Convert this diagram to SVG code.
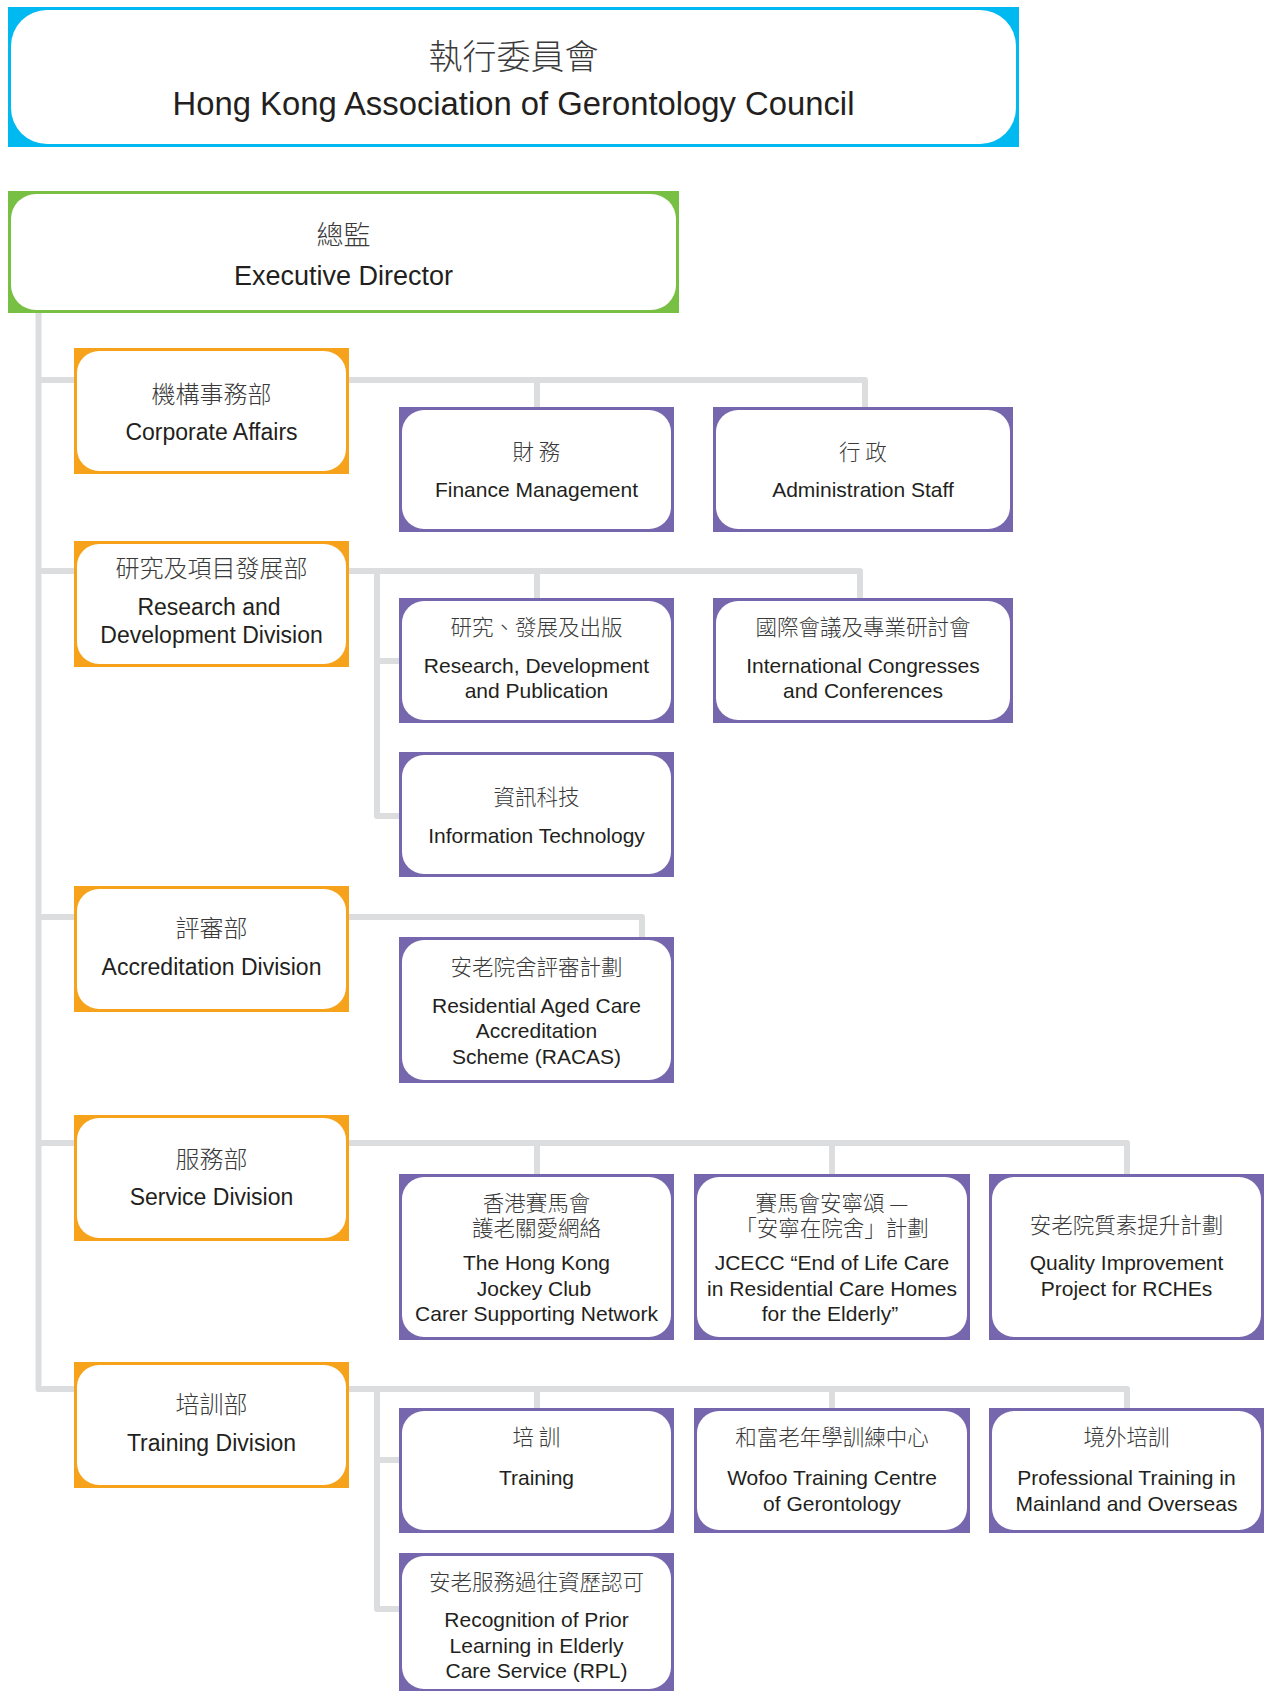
<svg xmlns="http://www.w3.org/2000/svg" width="1266" height="1691" viewBox="0 0 1266 1691">
<style>
.bg{fill:#ffffff}
.in{fill:#ffffff}
.blue{fill:#00b9f1}
.green{fill:#78c043}
.orange{fill:#f7a21b}
.purple{fill:#7566ae}
.con{fill:none;stroke:#dcdddf;stroke-width:6;stroke-linejoin:round;stroke-linecap:butt}
text{text-anchor:middle}
.en{font-family:"Liberation Sans",Arial,sans-serif;fill:#231f20}
.zh{font-family:"Noto Sans CJK TC","Noto Sans CJK SC",sans-serif;fill:#3a3a3a;font-weight:300}
.t1{font-size:32.8px}
.z1{font-size:34px}
.t2{font-size:27px}
.z2{font-size:27px}
.t3{font-size:23px}
.z3{font-size:24px}
.t4{font-size:21px}
.z4{font-size:21.5px}
</style>
<rect class="bg" x="0" y="0" width="1266" height="1691"/>
<g id="connectors">
<path class="con" d="M38.5,313 V1389 H1127 V1410"/>
<path class="con" d="M38.5,380 H865 V409"/>
<path class="con" d="M537,380 V409"/>
<path class="con" d="M38.5,571 H860 V600"/>
<path class="con" d="M537,571 V600"/>
<path class="con" d="M377,571 V816 H401"/>
<path class="con" d="M377,661 H401"/>
<path class="con" d="M38.5,917 H642 V939"/>
<path class="con" d="M38.5,1143 H1127 V1176"/>
<path class="con" d="M537,1143 V1176"/>
<path class="con" d="M832,1143 V1176"/>
<path class="con" d="M537,1389 V1410"/>
<path class="con" d="M832,1389 V1410"/>
<path class="con" d="M377,1389 V1609 H401"/>
<path class="con" d="M377,1460 H401"/>
</g>
<g id="council">
<rect class="blue" x="8" y="7" width="1011" height="140"/>
<rect class="in" x="11" y="10" width="1005" height="134" rx="36"/>
<text class="zh z1" x="513.5" y="69">執行委員會</text>
<text class="en t1" x="513.5" y="115">Hong Kong Association of Gerontology Council</text>
</g>
<g id="executive-director">
<rect class="green" x="8" y="191" width="671" height="122"/>
<rect class="in" x="11" y="194" width="665" height="116" rx="25"/>
<text class="zh z2" x="343.5" y="245">總監</text>
<text class="en t2" x="343.5" y="285">Executive Director</text>
</g>
<g id="corporate-affairs">
<rect class="orange" x="74" y="348" width="275" height="126"/>
<rect class="in" x="77" y="351" width="269" height="120" rx="22"/>
<text class="zh z3" x="211.5" y="403">機構事務部</text>
<text class="en t3" x="211.5" y="440">Corporate Affairs</text>
</g>
<g id="finance">
<rect class="purple" x="399" y="407" width="275" height="125"/>
<rect class="in" x="402" y="410" width="269" height="119" rx="22"/>
<text class="zh z4" x="536.5" y="460">財 務</text>
<text class="en t4" x="536.5" y="497">Finance Management</text>
</g>
<g id="administration">
<rect class="purple" x="713" y="407" width="300" height="125"/>
<rect class="in" x="716" y="410" width="294" height="119" rx="22"/>
<text class="zh z4" x="863" y="460">行 政</text>
<text class="en t4" x="863" y="497">Administration Staff</text>
</g>
<g id="research-development-division">
<rect class="orange" x="74" y="541" width="275" height="126"/>
<rect class="in" x="77" y="544" width="269" height="120" rx="22"/>
<text class="zh z3" x="211.5" y="577">研究及項目發展部</text>
<text class="en t3" x="209" y="615">Research and</text>
<text class="en t3" x="211.5" y="643">Development Division</text>
</g>
<g id="research-publication">
<rect class="purple" x="399" y="598" width="275" height="125"/>
<rect class="in" x="402" y="601" width="269" height="119" rx="22"/>
<text class="zh z4" x="536.5" y="635">研究、發展及出版</text>
<text class="en t4" x="536.5" y="673">Research, Development</text>
<text class="en t4" x="536.5" y="698">and Publication</text>
</g>
<g id="international-congresses">
<rect class="purple" x="713" y="598" width="300" height="125"/>
<rect class="in" x="716" y="601" width="294" height="119" rx="22"/>
<text class="zh z4" x="863" y="635">國際會議及專業研討會</text>
<text class="en t4" x="863" y="673">International Congresses</text>
<text class="en t4" x="863" y="698">and Conferences</text>
</g>
<g id="information-technology">
<rect class="purple" x="399" y="752" width="275" height="125"/>
<rect class="in" x="402" y="755" width="269" height="119" rx="22"/>
<text class="zh z4" x="536.5" y="805">資訊科技</text>
<text class="en t4" x="536.5" y="843">Information Technology</text>
</g>
<g id="accreditation-division">
<rect class="orange" x="74" y="886" width="275" height="126"/>
<rect class="in" x="77" y="889" width="269" height="120" rx="22"/>
<text class="zh z3" x="211.5" y="937">評審部</text>
<text class="en t3" x="211.5" y="975">Accreditation Division</text>
</g>
<g id="racas">
<rect class="purple" x="399" y="937" width="275" height="146"/>
<rect class="in" x="402" y="940" width="269" height="140" rx="22"/>
<text class="zh z4" x="536.5" y="975">安老院舍評審計劃</text>
<text class="en t4" x="536.5" y="1013">Residential Aged Care</text>
<text class="en t4" x="536.5" y="1038">Accreditation</text>
<text class="en t4" x="536.5" y="1064">Scheme (RACAS)</text>
</g>
<g id="service-division">
<rect class="orange" x="74" y="1115" width="275" height="126"/>
<rect class="in" x="77" y="1118" width="269" height="120" rx="22"/>
<text class="zh z3" x="211.5" y="1168">服務部</text>
<text class="en t3" x="211.5" y="1205">Service Division</text>
</g>
<g id="carer-supporting-network">
<rect class="purple" x="399" y="1174" width="275" height="166"/>
<rect class="in" x="402" y="1177" width="269" height="160" rx="22"/>
<text class="zh z4" x="536.5" y="1211"><tspan x="536.5" y="1211">香港賽馬會</tspan><tspan x="536.5" y="1236">護老關愛網絡</tspan></text>
<text class="en t4" x="536.5" y="1270">The Hong Kong</text>
<text class="en t4" x="534" y="1296">Jockey Club</text>
<text class="en t4" x="536.5" y="1321">Carer Supporting Network</text>
</g>
<g id="end-of-life-care">
<rect class="purple" x="694" y="1174" width="276" height="166"/>
<rect class="in" x="697" y="1177" width="270" height="160" rx="22"/>
<text class="zh z4" x="832" y="1211"><tspan x="832" y="1211">賽馬會安寧頌 —</tspan><tspan x="832" y="1236">「安寧在院舍」計劃</tspan></text>
<text class="en t4" x="832" y="1270">JCECC “End of Life Care</text>
<text class="en t4" x="832" y="1296">in Residential Care Homes</text>
<text class="en t4" x="830" y="1321">for the Elderly”</text>
</g>
<g id="quality-improvement">
<rect class="purple" x="989" y="1174" width="275" height="166"/>
<rect class="in" x="992" y="1177" width="269" height="160" rx="22"/>
<text class="zh z4" x="1126.5" y="1233">安老院質素提升計劃</text>
<text class="en t4" x="1126.5" y="1270">Quality Improvement</text>
<text class="en t4" x="1126.5" y="1296">Project for RCHEs</text>
</g>
<g id="training-division">
<rect class="orange" x="74" y="1362" width="275" height="126"/>
<rect class="in" x="77" y="1365" width="269" height="120" rx="22"/>
<text class="zh z3" x="211.5" y="1413">培訓部</text>
<text class="en t3" x="211.5" y="1451">Training Division</text>
</g>
<g id="training">
<rect class="purple" x="399" y="1408" width="275" height="125"/>
<rect class="in" x="402" y="1411" width="269" height="119" rx="22"/>
<text class="zh z4" x="536.5" y="1445">培 訓</text>
<text class="en t4" x="536.5" y="1485">Training</text>
</g>
<g id="wofoo">
<rect class="purple" x="694" y="1408" width="276" height="125"/>
<rect class="in" x="697" y="1411" width="270" height="119" rx="22"/>
<text class="zh z4" x="832" y="1445">和富老年學訓練中心</text>
<text class="en t4" x="832" y="1485">Wofoo Training Centre</text>
<text class="en t4" x="832" y="1511">of Gerontology</text>
</g>
<g id="overseas-training">
<rect class="purple" x="989" y="1408" width="275" height="125"/>
<rect class="in" x="992" y="1411" width="269" height="119" rx="22"/>
<text class="zh z4" x="1126.5" y="1445">境外培訓</text>
<text class="en t4" x="1126.5" y="1485">Professional Training in</text>
<text class="en t4" x="1126.5" y="1511">Mainland and Overseas</text>
</g>
<g id="rpl">
<rect class="purple" x="399" y="1553" width="275" height="140"/>
<rect class="in" x="402" y="1556" width="269" height="133" rx="22"/>
<text class="zh z4" x="536.5" y="1590">安老服務過往資歷認可</text>
<text class="en t4" x="536.5" y="1627">Recognition of Prior</text>
<text class="en t4" x="536.5" y="1653">Learning in Elderly</text>
<text class="en t4" x="536.5" y="1678">Care Service (RPL)</text>
</g>
</svg>
